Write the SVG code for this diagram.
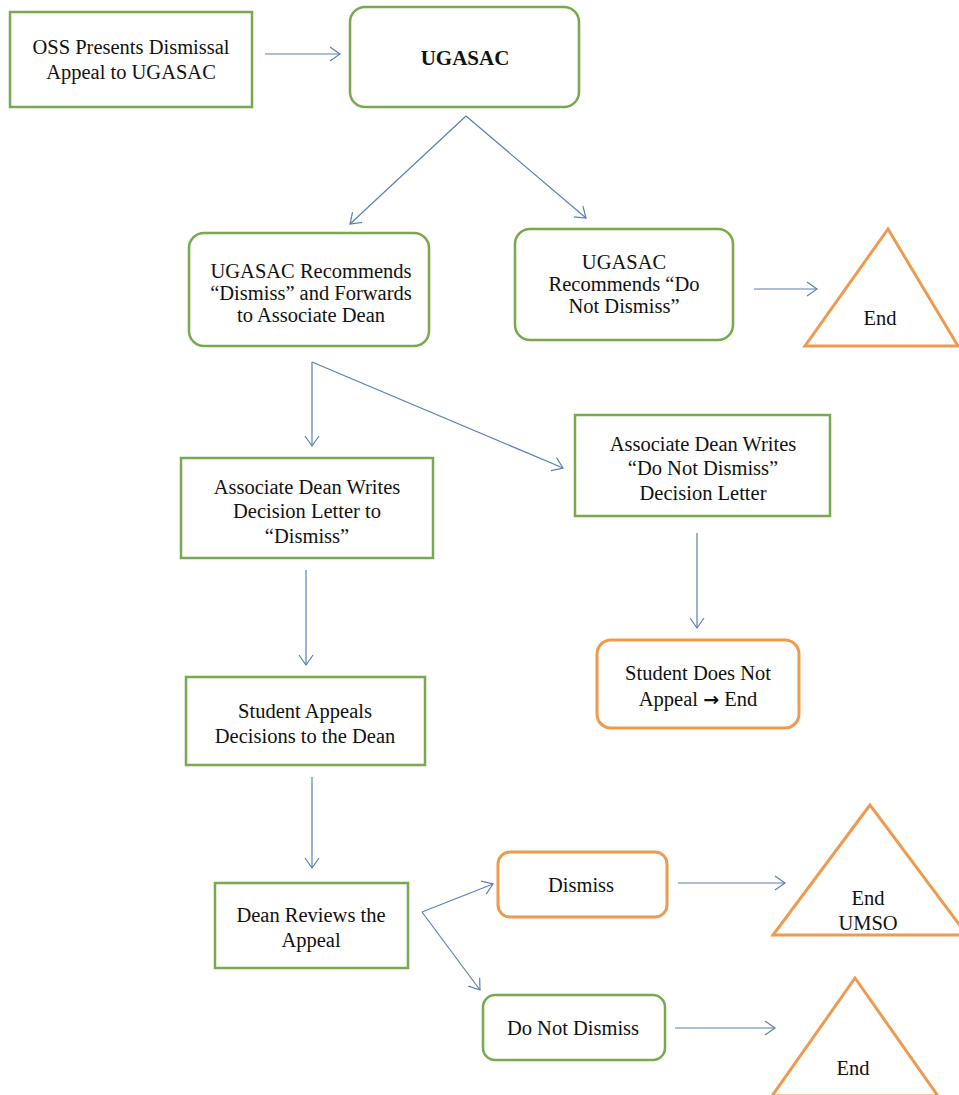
<svg xmlns="http://www.w3.org/2000/svg" width="959" height="1095" viewBox="0 0 959 1095">
<defs>
<style>
.g{fill:#fff;stroke:#77a94e;stroke-width:2.5}
.o{fill:#fff;stroke:#ee9a50;stroke-width:3}
.t{font-family:"Liberation Serif","Times New Roman",serif;font-size:20.5px;fill:#111;text-anchor:middle}
.b{font-weight:bold;font-size:21px}
.c line{stroke:#5a7fb8;stroke-width:1.2;fill:none}
</style>
<marker id="ah" markerUnits="userSpaceOnUse" markerWidth="14" markerHeight="16" refX="11" refY="8" orient="auto">
<path d="M1,1 L11,8 L1,15" fill="none" stroke="#5a7fb8" stroke-width="1.2"/>
</marker>
</defs>
<rect width="959" height="1095" fill="#fff"/>
<g class="c">
<line x1="265" y1="54" x2="340" y2="54" marker-end="url(#ah)"/>
<line x1="466" y1="116" x2="350" y2="224" marker-end="url(#ah)"/>
<line x1="466" y1="116" x2="586" y2="218" marker-end="url(#ah)"/>
<line x1="754" y1="289" x2="817" y2="289" marker-end="url(#ah)"/>
<line x1="312" y1="362" x2="312" y2="446" marker-end="url(#ah)"/>
<line x1="312" y1="362" x2="563" y2="468" marker-end="url(#ah)"/>
<line x1="697" y1="533" x2="697" y2="628" marker-end="url(#ah)"/>
<line x1="306" y1="570" x2="306" y2="665" marker-end="url(#ah)"/>
<line x1="312" y1="777" x2="312" y2="868" marker-end="url(#ah)"/>
<line x1="422" y1="912" x2="493" y2="884" marker-end="url(#ah)"/>
<line x1="422" y1="912" x2="480" y2="990" marker-end="url(#ah)"/>
<line x1="678" y1="883" x2="785" y2="883" marker-end="url(#ah)"/>
<line x1="675" y1="1028" x2="775" y2="1028" marker-end="url(#ah)"/>
</g>
<g id="oss"><rect class="g" x="10" y="12" width="242" height="95"/>
<text class="t" x="131" y="54">OSS Presents Dismissal</text><text class="t" x="131" y="79">Appeal to UGASAC</text></g>
<g id="ugasac"><rect class="g" x="350" y="7" width="229" height="100" rx="15"/>
<text class="t b" x="465" y="65">UGASAC</text></g>
<g id="rec-dismiss"><rect class="g" x="189" y="233" width="240" height="113" rx="15"/>
<text class="t" x="311" y="278">UGASAC Recommends</text><text class="t" x="311" y="300">“Dismiss” and Forwards</text><text class="t" x="311" y="322">to Associate Dean</text></g>
<g id="rec-notdismiss"><rect class="g" x="515" y="229" width="218" height="111" rx="15"/>
<text class="t" x="624" y="269">UGASAC</text><text class="t" x="624" y="291">Recommends “Do</text><text class="t" x="624" y="313">Not Dismiss”</text></g>
<g id="end1"><polygon class="o" points="888,229 805,346 958,346"/>
<text class="t" x="880" y="325">End</text></g>
<g id="ad-dismiss"><rect class="g" x="181" y="458" width="252" height="100"/>
<text class="t" x="307" y="494">Associate Dean Writes</text><text class="t" x="307" y="518">Decision Letter to</text><text class="t" x="307" y="543">“Dismiss”</text></g>
<g id="ad-notdismiss"><rect class="g" x="575" y="415" width="255" height="101"/>
<text class="t" x="703" y="451">Associate Dean Writes</text><text class="t" x="703" y="475">“Do Not Dismiss”</text><text class="t" x="703" y="500">Decision Letter</text></g>
<g id="no-appeal"><rect class="o" x="597" y="640" width="202" height="88" rx="14"/>
<text class="t" x="698" y="680">Student Does Not</text><text class="t" x="698" y="706">Appeal <tspan font-weight="bold" font-family="DejaVu Sans, sans-serif" font-size="19px">→</tspan> End</text></g>
<g id="appeals"><rect class="g" x="186" y="677" width="239" height="88"/>
<text class="t" x="305" y="718">Student Appeals</text><text class="t" x="305" y="743">Decisions to the Dean</text></g>
<g id="reviews"><rect class="g" x="215" y="883" width="193" height="85"/>
<text class="t" x="311" y="922">Dean Reviews the</text><text class="t" x="311" y="947">Appeal</text></g>
<g id="dismiss"><rect class="o" x="498" y="852" width="169" height="65" rx="12"/>
<text class="t" x="581" y="892">Dismiss</text></g>
<g id="notdismiss"><rect class="g" x="483" y="995" width="182" height="65" rx="12"/>
<text class="t" x="573" y="1035">Do Not Dismiss</text></g>
<g id="end-umso"><polygon class="o" points="870,805 773,935 967,935"/>
<text class="t" x="868" y="905">End</text><text class="t" x="868" y="930">UMSO</text></g>
<g id="end2"><polygon class="o" points="855,978 772,1096 938,1096"/>
<text class="t" x="853" y="1075">End</text></g>
</svg>
